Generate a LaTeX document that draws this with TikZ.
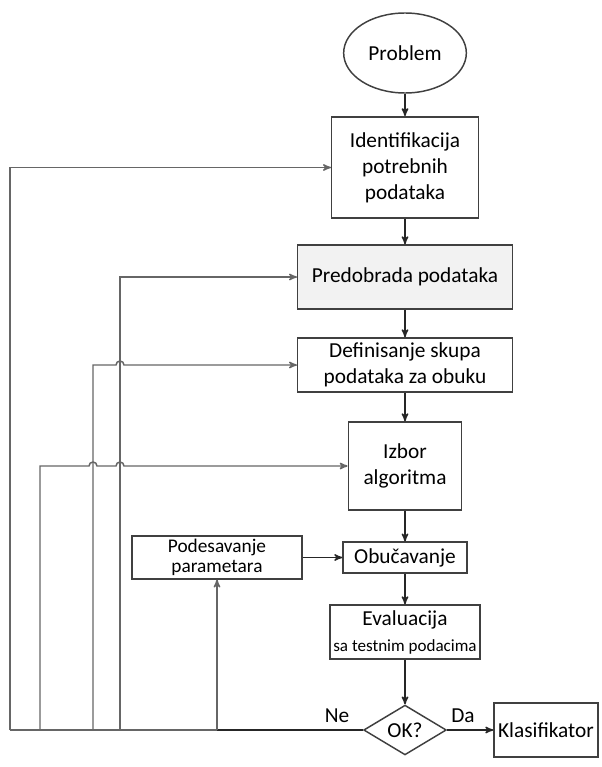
\documentclass[tikz,border=0pt]{standalone}
\usepackage{fontspec}
\setmainfont{Carlito}
\usetikzlibrary{shapes, arrows}

\begin{document}
\begin{tikzpicture}[->,>=stealth',x=0.75pt,y=-0.75pt,
      every node/.style={font=\fontsize{16}{19.5}\selectfont},
      box node/.style={rectangle,draw=black!75,line width=1.1pt,inner sep=0pt,align=center},
      start node/.style={ellipse,draw=black!75,line width=1.1pt,inner sep=0pt},
      test node/.style={diamond,draw=black!75,line width=1.1pt,inner sep=0pt,aspect=1},
      flow/.style={black!85,line width=1.1pt},
      back/.style={black!60,line width=1.1pt}]
    \useasboundingbox (0,0) rectangle (601,767);

    \node[start node,minimum width=92pt,minimum height=60pt] (prob) at (405,53) {Problem};
    \node[box node,minimum width=110pt,minimum height=76pt] (ident) at (405,167.5) {Identifikacija\\potrebnih\\podataka};
    \node[box node,minimum width=161pt,minimum height=48pt,fill=black!5] (pred) at (405,277) {Predobrada podataka};
    \node[box node,minimum width=161pt,minimum height=40.5pt] (def) at (405,365) {Definisanje skupa\\podataka za obuku};
    \node[box node,minimum width=85pt,minimum height=66pt] (izbor) at (405,466) {Izbor\\algoritma};
    \node[box node,minimum width=93pt,minimum height=23pt] (obuc) at (405,557.5) {Obučavanje};
    \node[box node,minimum width=127.5pt,minimum height=32pt,font=\fontsize{14.5}{15}\selectfont] (podes) at (217,557.5) {Podesavanje\\parametara};
    \node[box node,minimum width=112.5pt,minimum height=40.5pt] (eval) at (405,632) {Evaluacija\\{\fontsize{12.8}{19.5}\selectfont sa testnim podacima}};
    \node[test node,minimum width=62pt] (ok) at (405,730) {OK?};
    \node[box node,minimum width=78pt,minimum height=40.5pt] (klas) at (546,730) {Klasifikator};

    \node (ne) at (337,716) {Ne};
    \node (da) at (463,716) {Da};

    \path[flow]
        (prob) edge (ident)
        (ident) edge (pred)
        (pred) edge (def)
        (def) edge (izbor)
        (izbor) edge (obuc)
        (podes) edge (obuc)
        (obuc) edge (eval)
        (eval) edge (ok)
        (ok) edge (klas)
    ;

    % povratne veze
    \coordinate (jA) at (10,730);
    \coordinate (jB) at (40,730);
    \coordinate (jC) at (93,730);
    \coordinate (jD) at (120,730);
    \coordinate (jE) at (217,730);

    \draw[-,flow,line width=1.7pt] (ok.west) -- (jE);
    \draw[-,back] (jE) -- (jA);
    \draw[back] (jA) |- (ident.west);
    \draw[back] (jD) |- (pred.west);
    \draw[back] (jC) -- (93,365) -- (116,365) arc[start angle=180,end angle=0,radius=3pt] -- (def.west);
    \draw[back] (jB) -- (40,466) -- (89,466) arc[start angle=180,end angle=0,radius=3pt]
        -- (116,466) arc[start angle=180,end angle=0,radius=3pt] -- (izbor.west);
    \draw[back] (jE) -- (podes.south);
\end{tikzpicture}
\end{document}
